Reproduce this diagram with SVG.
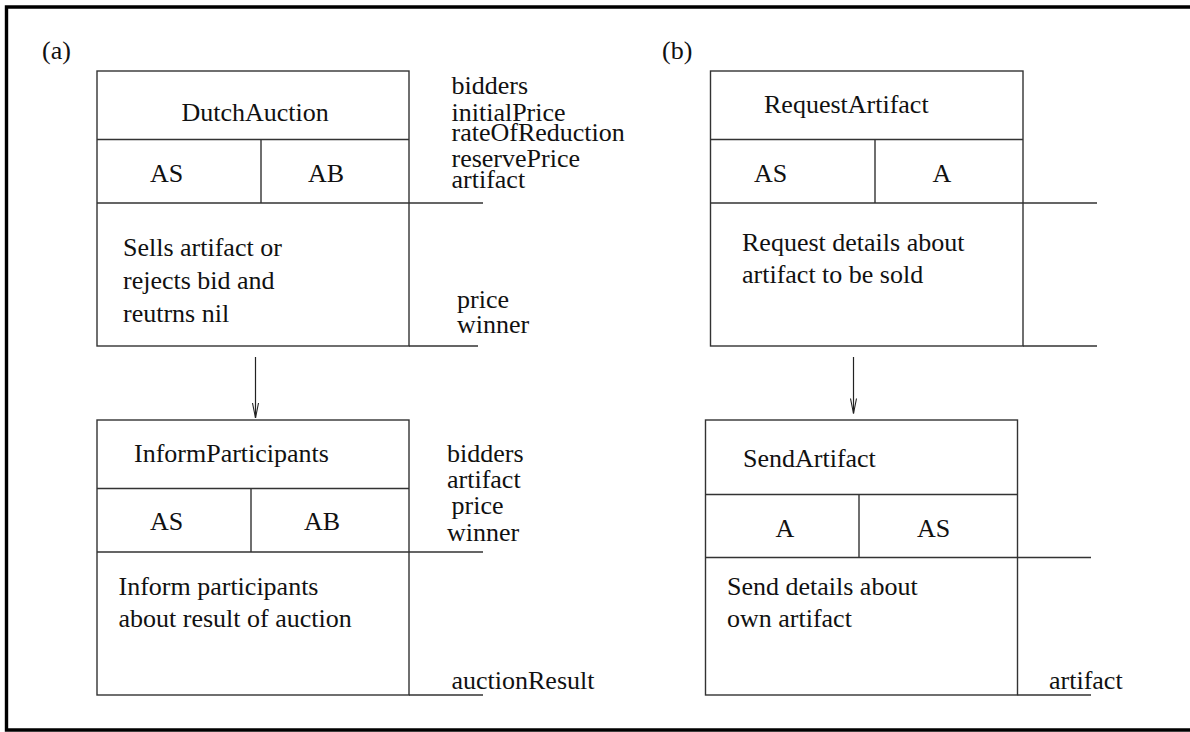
<svg xmlns="http://www.w3.org/2000/svg" width="1190" height="732" viewBox="0 0 1190 732" font-family="Liberation Serif" font-size="26">
<style>
text{fill:#111}
.b{fill:none;stroke:#333;stroke-width:1.4}
.c{fill:none;stroke:#222;stroke-width:1.2}
</style>
<defs>
<marker id="v" markerWidth="18" markerHeight="10" refX="16" refY="4" orient="auto" markerUnits="userSpaceOnUse" viewBox="0 0 18 8">
<path d="M1 1 L16 4 L1 7" fill="none" stroke="#222" stroke-width="1.1"/>
</marker>
</defs>
<rect width="1190" height="732" fill="#fff"/>
<path d="M1192 7 H6.5 V730 H1192" fill="none" stroke="#000" stroke-width="3.4"/>
<text x="42" y="59">(a)</text>
<text x="662" y="59">(b)</text>
<g id="dutchAuction">
<rect class="b" x="97" y="71" width="312" height="275"/>
<path class="b" d="M97 139.5 H409 M97 203 H483 M261 139.5 V203 M409 346 H478"/>
<text x="181.5" y="120.5">DutchAuction</text>
<text x="150" y="181.5">AS</text>
<text x="308" y="181.5">AB</text>
<text x="123" y="256">Sells artifact or</text>
<text x="123" y="289">rejects bid and</text>
<text x="123" y="322">reutrns nil</text>
<text x="451.5" y="94">bidders</text>
<text x="451.5" y="121">initialPrice</text>
<text x="451.5" y="141">rateOfReduction</text>
<text x="451.5" y="167">reservePrice</text>
<text x="451.5" y="188">artifact</text>
<text x="457" y="308">price</text>
<text x="457" y="333">winner</text>
</g>
<g id="informParticipants">
<rect class="b" x="97" y="420" width="312" height="275"/>
<path class="b" d="M97 488.5 H409 M97 552 H483 M251 488.5 V552 M409 695 H483"/>
<text x="134" y="461.5">InformParticipants</text>
<text x="150" y="530">AS</text>
<text x="304" y="530">AB</text>
<text x="118.5" y="595">Inform participants</text>
<text x="118.5" y="627">about result of auction</text>
<text x="447" y="461.5">bidders</text>
<text x="447" y="488">artifact</text>
<text x="451.5" y="514">price</text>
<text x="447" y="540.5">winner</text>
<text x="451.5" y="689">auctionResult</text>
</g>
<g id="requestArtifact">
<rect class="b" x="710.5" y="71" width="312.5" height="275"/>
<path class="b" d="M710.5 139.5 H1023 M710.5 203 H1097 M875 139.5 V203 M1023 346 H1097"/>
<text x="764" y="113">RequestArtifact</text>
<text x="754" y="181.5">AS</text>
<text x="932.5" y="181.5">A</text>
<text x="742" y="250.5">Request details about</text>
<text x="742" y="283">artifact to be sold</text>
</g>
<g id="sendArtifact">
<rect class="b" x="705.5" y="420" width="312" height="275"/>
<path class="b" d="M705.5 494.5 H1017.5 M705.5 557.5 H1091 M859 494.5 V557.5 M1017.5 695 H1091"/>
<text x="743" y="467">SendArtifact</text>
<text x="775.5" y="536.5">A</text>
<text x="917" y="536.5">AS</text>
<text x="727" y="595">Send details about</text>
<text x="727" y="627">own artifact</text>
<text x="1049" y="689">artifact</text>
</g>
<g id="connectors">
<path class="c" d="M255.5 357 V418" marker-end="url(#v)"/>
<path class="c" d="M853.5 357 V413.5" marker-end="url(#v)"/>
</g>
</svg>
